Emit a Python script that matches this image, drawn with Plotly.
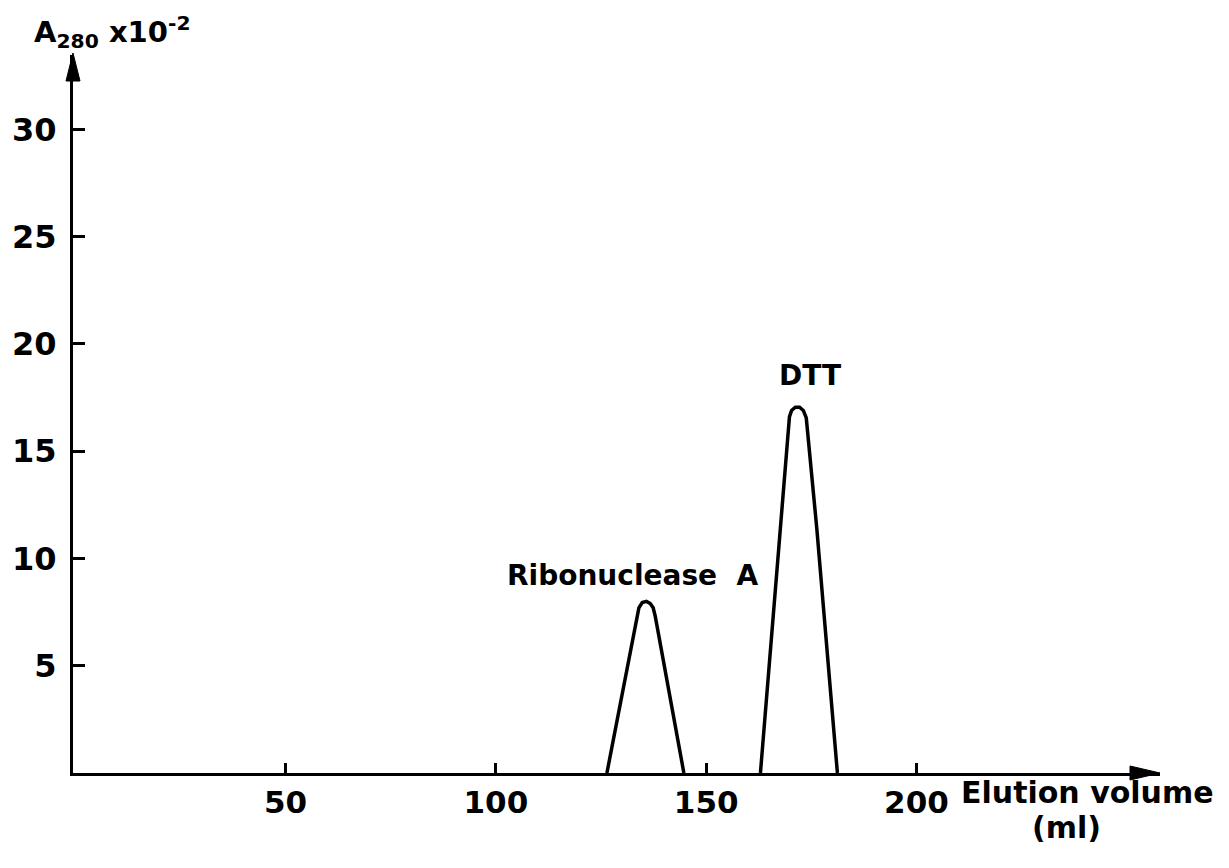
import plotly.graph_objects as go

# Data (elution volume in ml, A280 x 10^-2)
rnase_x = [126.4, 133.5, 134.0, 134.8, 135.8, 136.7, 137.4, 137.9, 144.7]
rnase_y = [0.0, 7.3, 7.7, 7.95, 8.0, 7.9, 7.7, 7.3, 0.0]
dtt_x = [162.9, 167.7, 169.8, 170.3, 171.2, 172.2, 173.1, 173.8, 176.3, 181.2]
dtt_y = [0.0, 11.4, 16.6, 16.9, 17.05, 17.05, 16.9, 16.55, 11.4, 0.0]

x_ticks = [50, 100, 150, 200]
y_ticks = [5, 10, 15, 20, 25, 30]
peak_labels = ["Ribonuclease\u00a0\u00a0A", "DTT"]
peak_label_x = [132.7, 174.8]
peak_label_y = [9.23, 18.55]

FONT = "DejaVu Sans"
BLACK = "#000000"

fig = go.Figure()
for xs, ys in [(rnase_x, rnase_y), (dtt_x, dtt_y)]:
    fig.add_trace(go.Scatter(x=xs, y=ys, mode="lines",
                             line=dict(color=BLACK, width=3.5),
                             showlegend=False, hoverinfo="skip"))

for txt, lx, ly in zip(peak_labels, peak_label_x, peak_label_y):
    fig.add_annotation(x=lx, y=ly, xref="x", yref="y", text=txt, showarrow=False,
                       font=dict(family=FONT, size=28, color=BLACK, weight="bold"),
                       xanchor="center", yanchor="middle")

# axis title pieces
fig.add_annotation(x=-0.038, y=1.0, xref="paper", yref="paper",
                   text="A<sub>280</sub> x10<sup>-2</sup>", showarrow=False,
                   font=dict(family=FONT, size=29, color=BLACK, weight="bold"),
                   xanchor="left", yanchor="bottom")
fig.add_annotation(x=0.815, y=-0.0265, xref="paper", yref="paper",
                   text="Elution volume", showarrow=False,
                   font=dict(family=FONT, size=30, color=BLACK, weight="bold"),
                   xanchor="left", yanchor="middle")
fig.add_annotation(x=0.88, y=-0.0766, xref="paper", yref="paper",
                   text="(ml)", showarrow=False,
                   font=dict(family=FONT, size=30, color=BLACK, weight="bold"),
                   xanchor="left", yanchor="middle")

# arrowheads on axes
fig.add_shape(type="path", xref="paper", yref="paper",
              xsizemode="pixel", ysizemode="pixel", xanchor=0, yanchor=1,
              path="M 0,2 L -7,-26 L 7,-26 Z", fillcolor=BLACK, line=dict(color=BLACK, width=1))
fig.add_shape(type="path", xref="paper", yref="paper",
              xsizemode="pixel", ysizemode="pixel", xanchor=1, yanchor=0,
              path="M 0,0 L -30,7 L -30,-7 Z", fillcolor=BLACK, line=dict(color=BLACK, width=1))

fig.update_layout(
    width=1229, height=868,
    margin=dict(l=66, r=69, t=55, b=95),
    paper_bgcolor="white", plot_bgcolor="white",
    xaxis=dict(range=[-0.54, 257.9], tickvals=x_ticks, ticktext=[str(v) for v in x_ticks],
               showgrid=False, zeroline=False, showline=True, linecolor=BLACK, linewidth=3,
               ticks="inside", ticklen=10, tickwidth=3, tickcolor=BLACK,
               ticklabelstandoff=0,
               tickfont=dict(family=FONT, size=31, color=BLACK, weight="bold")),
    yaxis=dict(range=[0, 33.47], tickvals=y_ticks, ticktext=[str(v) for v in y_ticks],
               showgrid=False, zeroline=False, showline=True, linecolor=BLACK, linewidth=3,
               ticks="inside", ticklen=12, tickwidth=3, tickcolor=BLACK,
               ticklabelstandoff=7,
               tickfont=dict(family=FONT, size=32, color=BLACK, weight="bold")),
)

fig.write_html("out.html")
